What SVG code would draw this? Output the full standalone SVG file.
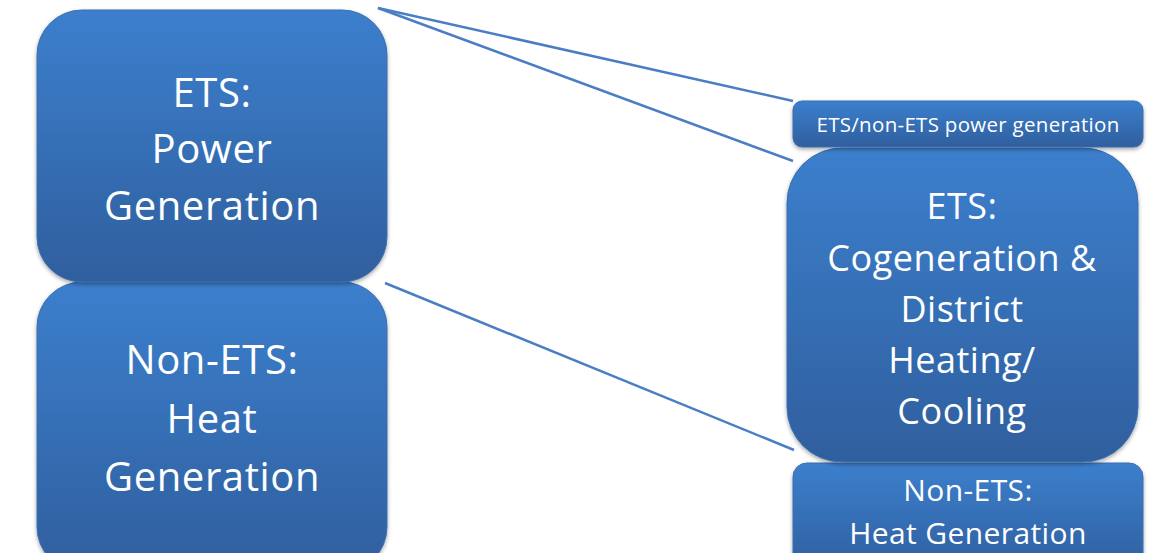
<svg xmlns="http://www.w3.org/2000/svg" width="1171" height="553" viewBox="0 0 1171 553">
<defs>
<linearGradient id="g" x1="0" y1="0" x2="0" y2="1">
<stop offset="0" stop-color="#3c7fcd"/>
<stop offset="1" stop-color="#2f5f9e"/>
</linearGradient>
<filter id="sh" x="-10%" y="-10%" width="120%" height="130%">
<feGaussianBlur in="SourceAlpha" stdDeviation="2"/>
<feOffset dy="2" result="b"/>
<feComponentTransfer><feFuncA type="linear" slope="0.35"/></feComponentTransfer>
<feMerge><feMergeNode/><feMergeNode in="SourceGraphic"/></feMerge>
</filter>
</defs>
<style>
.box{fill:url(#g);stroke:#3a6fb0;stroke-width:1;filter:url(#sh)}
.t{fill:#ffffff;font-family:"Open Sans","Noto Sans",sans-serif;text-anchor:middle}
.big{font-size:40px;letter-spacing:0.6px}
.mid{font-size:36px;letter-spacing:0.5px}
.sm{font-size:30px;letter-spacing:0.4px}
.xs{font-size:20.5px;letter-spacing:0.3px}
.ln{stroke:#4a7ec4;stroke-width:2.5;fill:none}
</style>
<g id="node-heat-left">
<rect class="box" x="37" y="282" width="350" height="290" rx="45" ry="45"/>
<text class="t big" x="212" y="374">Non-ETS:</text>
<text class="t big" x="212" y="433">Heat</text>
<text class="t big" x="212" y="491">Generation</text>
</g>
<g id="node-power-left">
<rect class="box" x="37" y="10" width="350" height="272" rx="45" ry="45"/>
<text class="t big" x="212" y="107">ETS:</text>
<text class="t big" x="212" y="163">Power</text>
<text class="t big" x="212" y="220">Generation</text>
</g>
<g id="node-heat-right">
<rect class="box" x="793" y="463" width="350" height="110" rx="14" ry="14"/>
<text class="t sm" x="968" y="501">Non-ETS:</text>
<text class="t sm" x="968" y="544">Heat Generation</text>
</g>
<g id="node-cogen">
<rect class="box" x="787" y="148" width="351" height="314" rx="55" ry="55"/>
<text class="t mid" x="962" y="219">ETS:</text>
<text class="t mid" x="962" y="271">Cogeneration &amp;</text>
<text class="t mid" x="962" y="322">District</text>
<text class="t mid" x="962" y="373">Heating/</text>
<text class="t mid" x="962" y="424">Cooling</text>
</g>
<g id="node-power-right">
<rect class="box" x="793" y="101" width="350" height="46" rx="9" ry="9"/>
<text class="t xs" x="968" y="132">ETS/non-ETS power generation</text>
</g>
<g id="connectors">
<line class="ln" x1="378" y1="8" x2="793" y2="101"/>
<line class="ln" x1="378" y1="8" x2="793" y2="161"/>
<line class="ln" x1="385" y1="283" x2="794" y2="450"/>
</g>
</svg>
